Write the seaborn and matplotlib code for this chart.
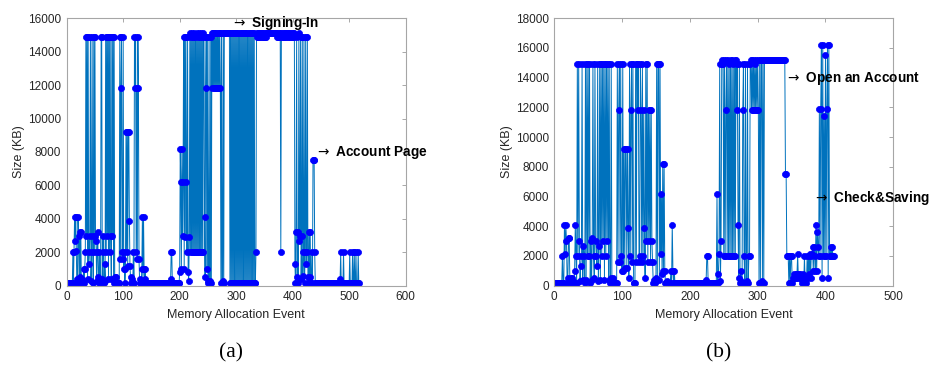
import numpy as np
import pandas as pd
import matplotlib
matplotlib.use("Agg")
import matplotlib.pyplot as plt
import seaborn as sns

# ---------------- data (a) : Memory allocation sizes (KB) ----------------
a_sizes = (
    [150] * 10
    + [2000, 150, 2000, 4100, 2700, 4100, 2100, 150, 400, 4100,
       3000, 150, 3200, 500, 3200, 150, 400, 150, 150, 1000,
       150, 1000, 2000]
    + [14900, 3000, 14900, 400, 14900, 1300, 2000, 3000, 14900, 300,
       2000, 14900, 3000, 150, 14900, 2000, 14900, 3000, 2700, 300,
       2000, 3200, 500, 150, 2000, 300, 150, 14900, 14900, 400,
       2000, 3000, 150, 1300, 300, 14900, 2000, 14900, 3000, 14900,
       400, 14900, 2000, 14900, 3000, 400, 14900, 3000, 14900, 150,
       14900, 500, 150, 500, 150, 150, 150, 150, 150, 150]
    + [14900, 1600, 11800, 14900, 2000, 1600, 14900, 1000, 2000, 150,
       1000, 9200, 2000, 9200, 1200, 9200, 9200, 3900, 1200, 500,
       150, 150, 400, 150, 2000, 150]
    + [14900, 11800, 14900, 2000, 11800, 1600, 14900, 11800, 1600, 400,
       150, 150, 150, 1000, 4100, 150, 4100, 1000, 400, 1000,
       150]
    + [150] * 43
    + [400, 2000, 2000] + [150] * 13
    + [800, 8200, 6200, 1000, 8200, 3000, 6200, 14900, 1000, 14900,
       2900, 14900, 6200, 2000, 14900, 800, 300, 2900]
    + [15100, 2000, 14900, 2000, 15100, 2000, 14900, 2000, 15100, 2000,
       14900, 2000, 15100, 2000, 14900, 2000, 15100, 2000, 14900, 2000,
       15100, 2000, 14900, 2000, 15100]
    + [14900, 4100, 500, 11800, 14900, 1000, 14900, 300, 150, 14900,
       150, 300, 14900, 150, 15100]
    + [11800, 15100, 11800, 15100, 11800, 15100, 11800, 15100, 11800, 15100,
       11800, 15100, 11800, 15100, 11800]
    + [150, 15100, 150, 300, 15100, 150, 15100, 15100, 15100, 15100,
       15100, 15100, 15100, 15100, 15100, 15100]
    + [150, 15100, 150, 15100, 150, 15100, 150, 15100, 150, 15100,
       150, 15100, 150, 15100, 150, 15100, 150, 15100, 150, 15100,
       150, 15100, 150, 15100, 150, 15100, 150, 15100, 150, 15100,
       150, 15100, 150, 15100, 150, 15100, 150, 15100, 150, 15100,
       150, 15100, 150, 15100, 150]
    + [150, 2000, 15100]
    + [14900, 15100, 14900, 15100, 14900, 15100, 14900, 15100, 14900, 15100,
       14900, 15100, 14900, 15100, 14900, 15100, 14900, 15100, 15100, 15100,
       15100, 15100, 15100, 15100, 15100, 15100, 15100, 15100, 15100, 15100,
       15100, 15100, 15100, 15100, 15100, 14900, 15100, 14900, 15100, 14900,
       15100, 14900]
    + [2000]
    + [15100, 14900, 15100, 14900, 15100, 14900, 15100, 14900, 15100, 14900,
       15100, 14900, 15100, 14900, 15100, 14900, 15100, 14900, 15100, 14900,
       15100, 14900, 15100, 14900]
    + [1300, 150, 3200, 14900, 500, 3200, 150, 15100, 2700, 3000,
       14900, 400, 3000, 14900, 600, 2000, 14900, 150, 2000, 14900,
       1300, 2000, 14900, 500, 150, 3200, 500, 3200, 150, 150,
       2000, 150, 7500, 7500, 7500, 2000, 150]
    + [150] * 43
    + [400, 2000, 150, 150, 150, 150, 2000, 150, 150, 150,
       150, 150, 150, 150, 150, 150, 150, 2000, 150, 150,
       150, 150, 2000, 150, 150, 2000, 150, 150, 2000, 150,
       150, 150, 2000, 150]
)

# ---------------- data (b) ----------------
b_sizes = (
    [150] * 11
    + [2000, 150, 150, 4100, 2100, 4100, 3000, 150, 500, 3200,
       3200, 300, 150, 500, 500, 150, 300, 150, 1000, 4100,
       2000, 150]
    + [14900, 2000, 14900, 3000, 300, 1300, 2000, 14900, 400, 2700,
       2000, 150, 14900, 400, 14900, 2000, 14900, 2000, 14900, 150,
       3000, 400, 3200, 14900, 2000, 500, 14900, 3000, 2000, 1300,
       14900, 300, 2700, 14900, 400, 14900, 2000, 14900, 3000, 14900,
       400, 14900, 2000, 14900, 3000, 14900, 400, 14900, 150, 500,
       14900, 150, 500, 150, 150, 150, 150, 150, 150]
    + [14900, 1600, 11800, 14900, 1600, 14900, 2000, 1000, 14900, 1000,
       9200, 1200, 9200, 9200, 1200, 9200, 3900, 500, 14900, 2000,
       11800, 14900, 1600, 14900, 150, 150, 150]
    + [14900, 1600, 14900, 11800, 14900, 1600, 2000, 14900, 11800, 1600,
       14900, 2000, 11800, 3900, 500, 14900, 3000, 14900, 1600, 11800,
       3000, 11800, 1600, 11800, 3000, 1600, 150, 400, 150, 400,
       500]
    + [14900, 400, 14900, 14900, 400, 14900, 2100, 6200, 800, 8200,
       1000, 8200, 1000, 150, 150, 300, 150, 150, 150, 150]
    + [150, 1000, 150, 4100, 1000, 150, 1000, 150, 150, 150, 150]
    + [150] * 42
    + [400, 2000, 2000] + [150] * 13
    + [6200, 150, 800, 2100, 14900, 300, 3000, 14900, 15200, 14900, 2000]
    + [15200, 2000, 11800, 15200, 2000, 15200, 2000, 14900, 2000, 15200,
       2000, 15200, 2000, 14900, 2000, 15200, 2000, 15200]
    + [11800, 14900, 4100, 500, 14900, 150, 1000, 300, 150, 11800,
       14900, 2000, 150, 14900, 150, 300, 14900, 150, 2000, 2000,
       14900, 15200]
    + [11800, 15200, 11800, 15200, 11800, 14900, 11800, 15200, 11800, 15200,
       11800, 150]
    + [15200, 150, 15200, 15200, 300, 15200, 150, 15200] + [15200] * 30
    + [7500, 7500, 2000, 2000, 2000, 150, 2000, 150, 2000, 2000, 150, 500]
    + [500, 800, 500, 800, 500, 800, 2100, 500, 800, 500,
       800, 500, 150, 500, 800, 150, 2000, 150, 500, 150,
       2000, 500, 2000, 800, 2100, 500, 2000, 2100]
    + [2600, 1000, 2600, 2000, 1000, 4100, 1000, 3600, 2600, 2000,
       11900, 2000, 11900, 16200, 500, 16200, 2000, 11400, 2000, 15500,
       2000, 11900, 16200, 500, 16200, 2000, 2000, 2600, 2000, 2600,
       2000, 2000]
)

a_xticks = [0, 100, 200, 300, 400, 500, 600]
a_yticks = [0, 2000, 4000, 6000, 8000, 10000, 12000, 14000, 16000]
b_xticks = [0, 100, 200, 300, 400, 500]
b_yticks = [0, 2000, 4000, 6000, 8000, 10000, 12000, 14000, 16000, 18000]

df_a = pd.DataFrame({"event": np.arange(1, len(a_sizes) + 1), "size": a_sizes})
df_b = pd.DataFrame({"event": np.arange(1, len(b_sizes) + 1), "size": b_sizes})

sns.set_theme(style="white")
plt.rcParams["font.family"] = ["Liberation Sans", "DejaVu Sans"]
plt.rcParams["mathtext.fontset"] = "dejavusans"

fig = plt.figure(figsize=(9.3, 3.65), dpi=100)
ax1 = fig.add_axes([0.0717, 0.2173, 0.3645, 0.7326])
ax2 = fig.add_axes([0.5960, 0.2173, 0.3645, 0.7326])

line_kw = dict(color="#0072BD", linewidth=0.7, marker="o", markersize=4.4,
               markerfacecolor="#0000FF", markeredgecolor="#0000FF",
               markeredgewidth=0.5)

sns.lineplot(data=df_a, x="event", y="size", ax=ax1, **line_kw)
sns.lineplot(data=df_b, x="event", y="size", ax=ax2, **line_kw)

for ax, xt, yt, xmax, ymax in [(ax1, a_xticks, a_yticks, 600, 16000),
                               (ax2, b_xticks, b_yticks, 500, 18000)]:
    ax.set_xlim(0, xmax)
    ax.set_ylim(0, ymax)
    ax.set_xticks(xt)
    ax.set_yticks(yt)
    ax.set_xticklabels([str(v) for v in xt])
    ax.set_yticklabels([str(v) for v in yt])
    ax.tick_params(axis="both", which="both", direction="in", length=3,
                   width=0.6, color="#9a9a9a", labelsize=8.5,
                   labelcolor="#262626", top=True, right=True, pad=4)
    for s in ax.spines.values():
        s.set_color("#a6a6a6")
        s.set_linewidth(0.8)
    ax.set_xlabel("Memory Allocation Event", fontsize=9, color="#262626")
    ax.set_ylabel("Size (KB)", fontsize=9, color="#262626")
    ax.xaxis.set_label_coords(0.5, -0.087)
    ax.yaxis.set_label_coords(-0.122, 0.5)
    ax.grid(False)

ann_kw = dict(fontsize=9.8, fontweight="bold", color="black", va="center",
              ha="left", clip_on=False)
ax1.text(291, 15720, r"$\rightarrow$ Signing-In", **ann_kw)
ax1.text(439, 7940, r"$\rightarrow$ Account Page", **ann_kw)
ax2.text(340, 13920, r"$\rightarrow$ Open an Account", **ann_kw)
ax2.text(382, 5920, r"$\rightarrow$ Check&Saving", **ann_kw)

fig.text(0.248, 0.033, "(a)", ha="center", va="center", fontsize=15.5,
         family="Liberation Serif", color="black")
fig.text(0.773, 0.033, "(b)", ha="center", va="center", fontsize=15.5,
         family="Liberation Serif", color="black")

fig.savefig("out.png", dpi=100, facecolor="white")
